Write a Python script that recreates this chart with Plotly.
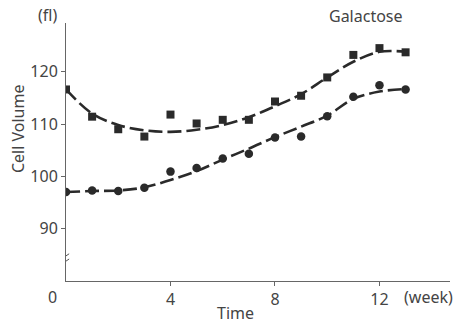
import plotly.graph_objects as go

weeks = [0, 1, 2, 3, 4, 5, 6, 7, 8, 9, 10, 11, 12, 13]
square_vals = [116.6, 111.4, 109.0, 107.6, 111.8, 110.1, 110.8, 110.8, 114.3, 115.4, 118.9, 123.2, 124.5, 123.7]
circle_vals = [97.0, 97.3, 97.2, 97.8, 100.9, 101.6, 103.4, 104.3, 107.4, 107.6, 111.5, 115.2, 117.4, 116.6]
upper_fit = [116.6, 112.0, 109.8, 108.8, 108.5, 108.9, 109.8, 111.3, 113.4, 115.7, 118.9, 121.9, 123.8, 123.8]
lower_fit = [97.0, 97.2, 97.3, 97.9, 99.3, 101.0, 103.2, 105.3, 107.5, 109.5, 111.6, 114.8, 116.2, 116.7]
y_ticks = [90, 100, 110, 120]
x_ticks = [4, 8, 12]

FONT = "Noto Sans"
INK = "#2a2a2a"
TXT = "#444"
FS = 16

fig = go.Figure()
fig.add_trace(go.Scatter(x=weeks, y=upper_fit, mode="lines", line=dict(color=INK, width=2.6, dash="14px,5px", shape="spline"), hoverinfo="skip"))
fig.add_trace(go.Scatter(x=weeks, y=lower_fit, mode="lines", line=dict(color=INK, width=2.6, dash="14px,5px", shape="spline"), hoverinfo="skip"))
fig.add_trace(go.Scatter(x=weeks, y=square_vals, mode="markers", marker=dict(symbol="square", size=8, color=INK)))
fig.add_trace(go.Scatter(x=weeks, y=circle_vals, mode="markers", marker=dict(symbol="circle", size=8.5, color=INK)))

fig.update_layout(
    width=456, height=325,
    margin=dict(l=66, r=6, t=23, b=44),
    paper_bgcolor="white", plot_bgcolor="white",
    showlegend=False,
    font=dict(family=FONT, size=FS, color=TXT),
)
fig.update_xaxes(range=[0, 14.7], tickvals=x_ticks, ticktext=[str(v) for v in x_ticks],
                 showgrid=False, zeroline=False, showline=True, linecolor="#666", linewidth=1,
                 ticks="outside", ticklen=4, tickcolor="#666", tickfont=dict(size=FS, color=TXT))
fig.update_yaxes(range=[80, 129.3], tickvals=y_ticks, showgrid=False, zeroline=False,
                 showline=True, linecolor="#666", linewidth=1, ticks="outside", ticklen=4,
                 tickcolor="#666", tickfont=dict(size=FS, color=TXT))

# axis break marks
for dy in (-0.5, 0.5):
    fig.add_shape(type="line", xref="x", yref="y", x0=-0.12, x1=0.12, y0=84.3 + dy - 0.4, y1=84.3 + dy + 0.4,
                  line=dict(color="#555", width=1))

ann = dict(showarrow=False, font=dict(family=FONT, size=FS, color=TXT))
fig.add_annotation(text="Cell Volume", xref="paper", yref="paper", x=-0.125, y=0.589, textangle=-90,
                   xanchor="center", yanchor="middle", **ann)
fig.add_annotation(text="(fl)", xref="paper", yref="paper", x=-0.047, y=1.031, xanchor="center", yanchor="middle", **ann)
fig.add_annotation(text="Galactose", xref="x", yref="paper", x=11.5, y=1.027, xanchor="center", yanchor="middle", **ann)
fig.add_annotation(text="0", xref="paper", yref="paper", x=-0.034, y=-0.062, xanchor="center", yanchor="middle", **ann)
fig.add_annotation(text="(week)", xref="x", yref="paper", x=13.87, y=-0.062, xanchor="center", yanchor="middle", **ann)
fig.add_annotation(text="Time", xref="x", yref="paper", x=6.5, y=-0.124, xanchor="center", yanchor="middle", **ann)

fig.write_html("out.html", config={"displayModeBar": False},
               post_script="document.body.style.margin='0';document.body.style.overflow='hidden';")
